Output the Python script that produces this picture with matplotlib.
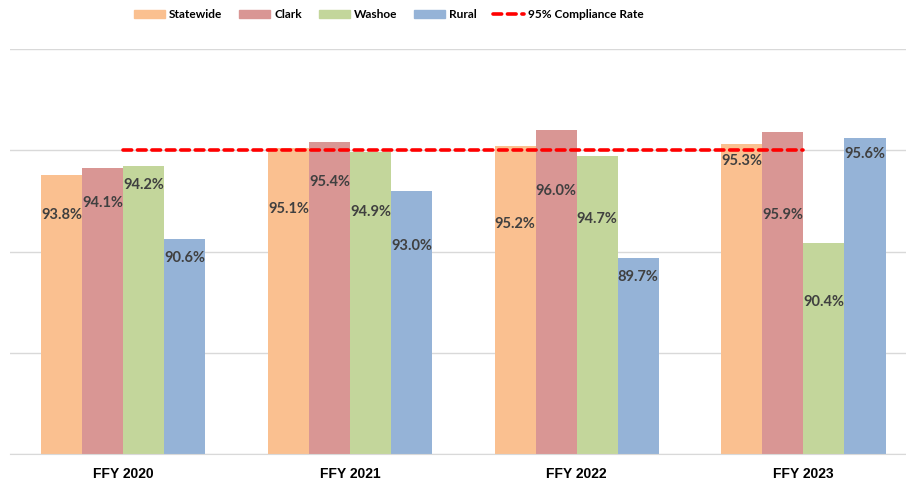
import matplotlib
matplotlib.use("Agg")
import matplotlib.pyplot as plt
import numpy as np
from matplotlib.patches import Patch
from matplotlib.lines import Line2D

# data
years = ["FFY 2020", "FFY 2021", "FFY 2022", "FFY 2023"]
series = ["Statewide", "Clark", "Washoe", "Rural"]
statewide = [93.8, 95.1, 95.2, 95.3]
clark = [94.1, 95.4, 96.0, 95.9]
washoe = [94.2, 94.9, 94.7, 90.4]
rural = [90.6, 93.0, 89.7, 95.6]
target = [95, 95, 95, 95]

# how far below the bar top each label sits (labels were hand placed in the original)
label_drop = [
    [2.0, 3.0, 3.85, 0.85],
    [1.7, 1.95, 3.0, 4.1],
    [0.9, 2.95, 3.1, 2.9],
    [0.9, 2.75, 0.95, 0.8],
]

colors = ["#FAC090", "#D99694", "#C3D69B", "#95B3D7"]
label_font = ["Lato", "DejaVu Sans"]

fig = plt.figure(figsize=(9.06, 4.83), dpi=100)
ax = fig.add_axes([10 / 906, 29 / 483, 896 / 906, 405 / 483])

x = np.arange(len(years))
w = 0.181
values = [statewide, clark, washoe, rural]
for i, vals in enumerate(values):
    pos = x + (i - 1.5) * w
    ax.bar(pos, vals, width=w, color=colors[i], edgecolor="none", zorder=2)
    for j, v in enumerate(vals):
        ax.text(pos[j], v - label_drop[i][j], f"{v:.1f}%", ha="center", va="center",
                fontsize=10.5, fontweight="bold", color="#404040", family=label_font, zorder=4)

ax.plot(x, target, color="#FF0000", lw=2.6, dashes=(2.4, 1.6), dash_capstyle="round", zorder=3)

ax.set_ylim(80, 100)
ax.set_xlim(-0.5, -0.5 + 896 / 226.7)
ax.set_yticks([80, 85, 90, 95, 100])
ax.set_yticklabels([])
ax.set_xticks(x)
ax.set_xticklabels(years, fontsize=10, fontweight="bold", family=["Liberation Sans"])
ax.tick_params(axis="both", length=0)
ax.tick_params(axis="x", pad=9)
ax.grid(axis="y", color="#D9D9D9", lw=1)
ax.set_axisbelow(True)
for s in ["top", "left", "right"]:
    ax.spines[s].set_visible(False)
ax.spines["bottom"].set_color("#D9D9D9")

handles = [Patch(color=c) for c in colors]
handles.append(Line2D([0], [0], color="#FF0000", lw=2.6, dashes=(2.4, 1.6), dash_capstyle="round"))
labels = series + ["95% Compliance Rate"]
fig.legend(handles, labels, loc="center", bbox_to_anchor=(389 / 906, 1 - 15 / 483), ncol=5,
           frameon=False, prop={"family": label_font, "weight": "bold", "size": 8.6},
           handlelength=2.6, handleheight=0.65, handletextpad=0.33, columnspacing=1.4)

fig.savefig("out.png", dpi=100)
